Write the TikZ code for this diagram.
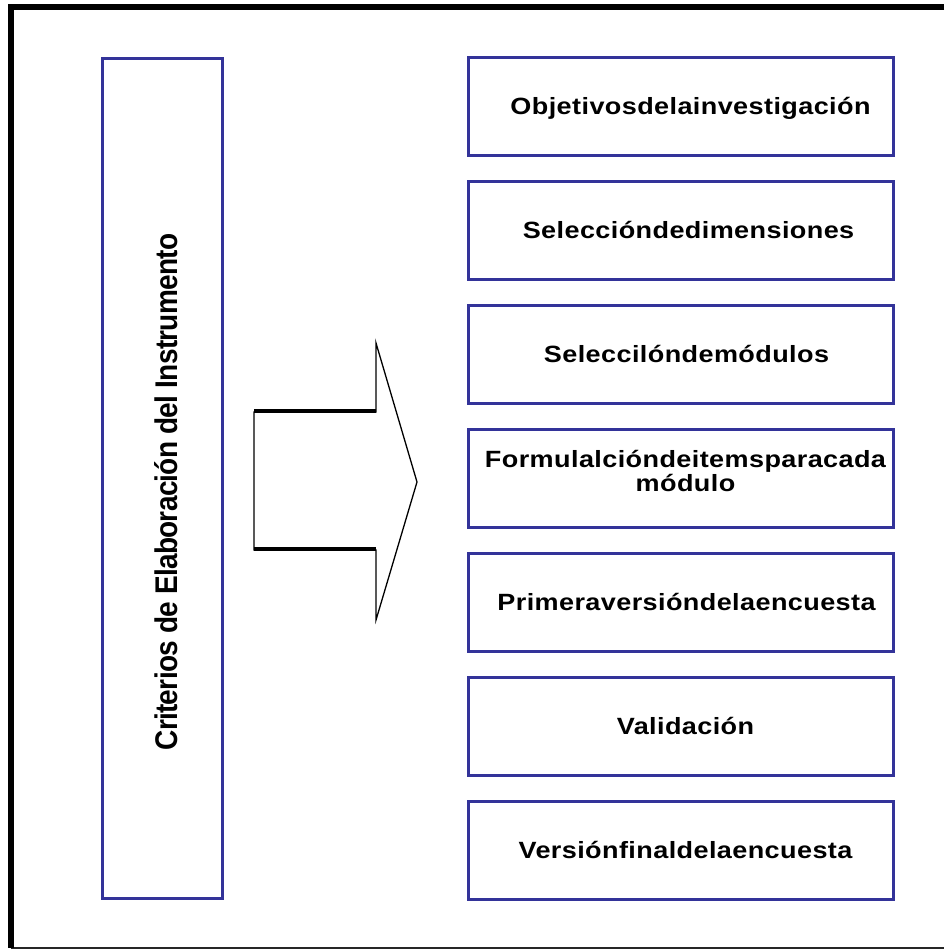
\documentclass[tikz,border=0pt]{standalone}
\usepackage{fontspec}
\usepackage{graphicx}
\setmainfont{Liberation Sans}
\newfontfamily\spacedfont{Liberation Sans}[LetterSpace=1.5]
\newfontfamily\tightfont{Liberation Sans}[LetterSpace=-2.5]
\definecolor{boxblue}{HTML}{333399}
\newcommand{\widetext}[1]{\scalebox{1.15}[1]{\begin{tabular}{@{}c@{}}#1\end{tabular}}}
\newcommand{\tallvtext}[1]{\scalebox{1}[1.12]{#1}}
\begin{document}
\begin{tikzpicture}[x=1pt,y=-1pt,
  rbox/.style={draw=boxblue,line width=3pt,minimum width=425pt,minimum height=98pt,inner sep=0pt,fill=white},
  lbox/.style={draw=boxblue,line width=3pt,minimum width=120pt,minimum height=840pt,inner sep=0pt,fill=white},
  rtext/.style={font=\spacedfont\bfseries\fontsize{23.5}{24}\selectfont,align=center,inner sep=0pt,text=black},
  vtext/.style={font=\tightfont\bfseries\fontsize{28}{32}\selectfont,rotate=90,inner sep=0pt,text=black},
  arrowshape/.style={draw=black,line width=1.3pt,fill=white,line join=miter},
  shaftedge/.style={draw=black,line width=4pt,line cap=butt}]
\useasboundingbox (0,0) rectangle (944,949);
\fill[white] (0,0) rectangle (944,949);
% outer frame
\coordinate (fTL) at (10.5,7.5);
\coordinate (fTR) at (944,7.5);
\coordinate (fBL) at (10.5,947.8);
\coordinate (fBR) at (944,947.8);
\draw[line width=1.5pt,black!85] (fBL) -- (fBR);
\draw[line width=6pt,black] (fTR) -- (fTL) -- ([yshift=-0.1pt]fBL);
% left box
\node[lbox] (L) at (162.5,478.5) {};
\node[vtext] (Lt) at (166,492) {\tallvtext{Criterios de Elaboración del Instrumento}};
% arrow
\coordinate (a1) at (254,412);
\coordinate (a2) at (376,412);
\coordinate (a3) at (376,343);
\coordinate (a4) at (417,482);
\coordinate (a5) at (376,620);
\coordinate (a6) at (376,550);
\coordinate (a7) at (254,550);
\draw[arrowshape] (a1) -- (a2) -- (a3) -- (a4) -- (a5) -- (a6) -- (a7) -- cycle;
\draw[shaftedge] ([yshift=1pt]a1) -- ([yshift=1pt]a2);
\draw[shaftedge] ([yshift=1pt]a7) -- ([yshift=1pt]a6);
% right boxes
\node[rbox] (b1) at (680.5,106.5) {};
\node[rbox] (b2) at (680.5,230.5) {};
\node[rbox] (b3) at (680.5,354.5) {};
\node[rbox] (b4) at (680.5,478.5) {};
\node[rbox] (b5) at (680.5,602.5) {};
\node[rbox] (b6) at (680.5,726.5) {};
\node[rbox] (b7) at (680.5,850.5) {};
\node[rtext] (t1) at ([xshift=10pt,yshift=-3pt]b1.center) {\widetext{Objetivosdelainvestigación}};
\node[rtext] (t2) at ([xshift=8pt,yshift=-3pt]b2.center) {\widetext{Seleccióndedimensiones}};
\node[rtext] (t3) at ([xshift=6pt,yshift=-3pt]b3.center) {\widetext{Seleccilóndemódulos}};
\node[rtext] (t4) at ([xshift=5pt,yshift=4pt]b4.center) {\widetext{Formulalcióndeitemsparacada\\módulo}};
\node[rtext] (t5) at ([xshift=6pt,yshift=-3pt]b5.center) {\widetext{Primeraversióndelaencuesta}};
\node[rtext] (t6) at ([xshift=5pt,yshift=-3pt]b6.center) {\widetext{Validación}};
\node[rtext] (t7) at ([xshift=5pt,yshift=-3pt]b7.center) {\widetext{Versiónfinaldelaencuesta}};
\end{tikzpicture}
\end{document}
